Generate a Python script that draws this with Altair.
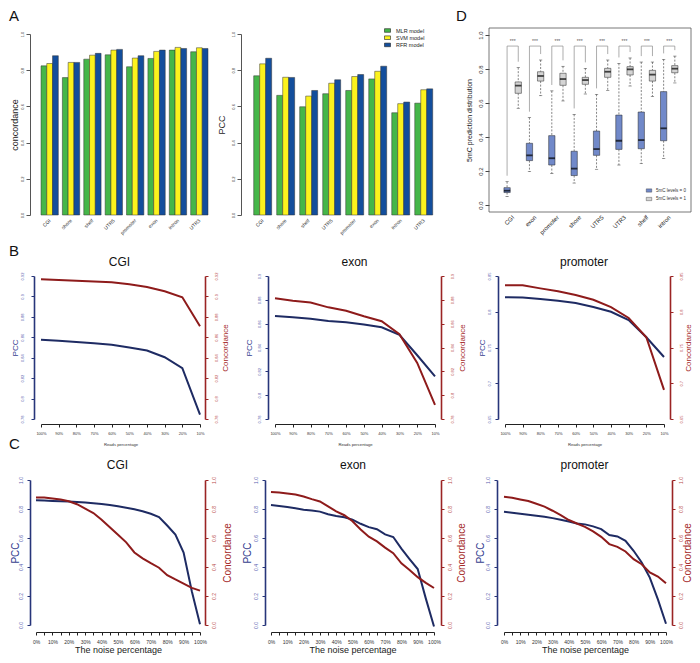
import json
import altair as alt
import pandas as pd

FONT = "Liberation Sans"

# ---------------- Panel A data ----------------
regions_A = ["CGI", "shore", "shelf", "UTR5", "promoter", "exon", "intron", "UTR3"]
models = ["MLR model", "SVM model", "RFR model"]
model_colors = ["#45b649", "#fcf21d", "#134e9c"]
conc_MLR = [0.824, 0.759, 0.861, 0.885, 0.819, 0.865, 0.911, 0.902]
conc_SVM = [0.837, 0.843, 0.883, 0.911, 0.867, 0.904, 0.926, 0.924]
conc_RFR = [0.880, 0.843, 0.893, 0.915, 0.880, 0.911, 0.920, 0.920]
pcc_MLR = [0.769, 0.661, 0.598, 0.670, 0.688, 0.752, 0.565, 0.618]
pcc_SVM = [0.835, 0.761, 0.657, 0.728, 0.765, 0.794, 0.615, 0.692]
pcc_RFR = [0.866, 0.760, 0.688, 0.747, 0.776, 0.822, 0.624, 0.697]

# ---------------- Panel D data ----------------
regions_D = ["CGI", "exon", "promoter", "shore", "UTR5", "UTR3", "shelf", "intron"]
groups_D = ["5mC levels = 0", "5mC levels = 1"]
group_colors = ["#7189c9", "#d4d4d4"]
lvl0_lo = [0.049, 0.196, 0.186, 0.129, 0.210, 0.235, 0.243, 0.273]
lvl0_q1 = [0.073, 0.261, 0.235, 0.173, 0.292, 0.327, 0.331, 0.378]
lvl0_med = [0.084, 0.292, 0.275, 0.214, 0.329, 0.378, 0.382, 0.451]
lvl0_q3 = [0.102, 0.363, 0.408, 0.316, 0.435, 0.529, 0.547, 0.667]
lvl0_hi = [0.137, 0.514, 0.671, 0.533, 0.651, 0.833, 0.841, 0.857]
lvl1_lo = [0.569, 0.643, 0.612, 0.653, 0.673, 0.700, 0.639, 0.718]
lvl1_q1 = [0.657, 0.729, 0.704, 0.710, 0.751, 0.765, 0.729, 0.778]
lvl1_med = [0.702, 0.759, 0.741, 0.735, 0.784, 0.798, 0.767, 0.802]
lvl1_q3 = [0.724, 0.784, 0.775, 0.751, 0.804, 0.814, 0.792, 0.820]
lvl1_hi = [0.808, 0.853, 0.816, 0.804, 0.853, 0.865, 0.841, 0.876]

# ---------------- Panel B data (reads percentage) ----------------
reads_pct = [100, 90, 80, 70, 60, 50, 40, 30, 20, 10]
b_cgi_pcc = [0.8575, 0.8565, 0.8555, 0.8542, 0.8526, 0.8500, 0.8471, 0.8405, 0.8298, 0.7842]
b_cgi_conc = [0.9167, 0.9161, 0.9154, 0.9145, 0.9138, 0.9119, 0.9093, 0.9050, 0.8992, 0.8708]
b_exon_pcc = [0.8665, 0.8654, 0.8642, 0.8623, 0.8612, 0.8593, 0.8570, 0.8507, 0.8335, 0.8157]
b_exon_conc = [0.8814, 0.8792, 0.8778, 0.8737, 0.8709, 0.8662, 0.8620, 0.8512, 0.8271, 0.7919]
b_prom_pcc = [0.8204, 0.8199, 0.8179, 0.8153, 0.8122, 0.8066, 0.8000, 0.7883, 0.7643, 0.7367]
b_prom_conc = [0.8372, 0.8372, 0.8327, 0.8286, 0.8235, 0.8168, 0.8066, 0.7913, 0.7643, 0.6908]

# ---------------- Panel C data (noise percentage) ----------------
noise_pct = [0, 5, 10, 15, 20, 25, 30, 35, 40, 45, 50, 55, 60, 65, 70, 75, 80, 85, 90, 95, 100]
c_cgi_pcc = [0.860, 0.858, 0.856, 0.853, 0.851, 0.849, 0.844, 0.840, 0.835, 0.828, 0.819,
             0.809, 0.798, 0.784, 0.767, 0.744, 0.686, 0.623, 0.500, 0.233, 0.005]
c_cgi_conc = [0.879, 0.879, 0.872, 0.865, 0.853, 0.833, 0.802, 0.772, 0.726, 0.674, 0.623,
              0.570, 0.500, 0.460, 0.426, 0.395, 0.344, 0.314, 0.286, 0.256, 0.237]
c_exon_pcc = [0.827, 0.820, 0.814, 0.805, 0.795, 0.789, 0.782, 0.764, 0.752, 0.743, 0.727,
              0.698, 0.675, 0.661, 0.625, 0.607, 0.527, 0.455, 0.386, 0.182, -0.010]
c_exon_conc = [0.918, 0.914, 0.907, 0.900, 0.886, 0.868, 0.852, 0.818, 0.784, 0.757, 0.716,
               0.659, 0.609, 0.577, 0.534, 0.495, 0.425, 0.380, 0.330, 0.291, 0.255]
c_prom_pcc = [0.781, 0.774, 0.767, 0.760, 0.753, 0.747, 0.737, 0.726, 0.714, 0.700, 0.694,
              0.680, 0.661, 0.620, 0.611, 0.581, 0.512, 0.431, 0.327, 0.177, 0.009]
c_prom_conc = [0.885, 0.878, 0.866, 0.855, 0.836, 0.816, 0.788, 0.758, 0.724, 0.700, 0.677,
               0.645, 0.608, 0.558, 0.539, 0.507, 0.454, 0.419, 0.362, 0.334, 0.288]

NAVY = "#1e2b63"
NAVY_AX = "#27357a"
NAVY_LAB = "#5a5fb0"
RED = "#8e1b1b"
RED_AX = "#9b2424"
RED_LAB = "#b84a4a"
RECT_PATH = "M-1,-0.6L1,-0.6L1,0.6L-1,0.6Z"
PAGE0 = 8  # left page margin


def first_cell(width, letters, top, bottom):
    """Row-leading cell: panel letter(s) plus invisible white bounds anchors."""
    layers = []
    for txt, dy in letters:
        layers.append(alt.Chart(pd.DataFrame({"t": [txt]})).mark_text(
            align="left", baseline="top", fontSize=15, color="#111"
        ).encode(text="t:N", x=alt.value(0), y=alt.value(dy)))
    for yy in (top, bottom):
        layers.append(alt.Chart(pd.DataFrame({"a": [0]})).mark_rule(
            color="#ffffff", strokeWidth=1
        ).encode(x=alt.value(0), x2=alt.value(1), y=alt.value(yy)))
    return alt.layer(*layers).properties(width=width, height=1)


def spacer(w):
    return alt.Chart(pd.DataFrame({"t": [""]})).mark_text().encode(
        text="t:N", x=alt.value(0), y=alt.value(0)).properties(width=w, height=1)


# ---------------- Panel A ----------------
def bar_panel(vals, ytitle, width, height, rng, pad_inner, title_x, legend):
    rows = []
    for m, v in zip(models, vals):
        for i, r in enumerate(regions_A):
            rows.append({"region": r, "model": m, "value": v[i]})
    df = pd.DataFrame(rows)
    if legend:
        leg = alt.Legend(orient="none", legendX=143, legendY=-7, title=None,
                         symbolType=RECT_PATH, symbolSize=36, symbolStrokeColor="#222",
                         symbolStrokeWidth=0.6, symbolOpacity=1, labelFontSize=5.5,
                         labelOffset=5, rowPadding=0.2, padding=0, labelColor="#222")
    else:
        leg = None
    yax = alt.Axis(values=[0, 0.2, 0.4, 0.6, 0.8, 1.0], format=".1f", labelAngle=270,
                   labelAlign="center", labelBaseline="bottom", labelFontSize=4, labelPadding=2,
                   tickSize=4, tickColor="#555", domainColor="#555", labelColor="#333",
                   title=ytitle, titleFontSize=9, titleFontWeight="normal", titleAngle=270,
                   titleX=title_x, titleY=height / 2, titleAlign="center", titleBaseline="middle",
                   titleColor="#222", grid=False, labelFlush=False, labelOverlap=False)
    xax = alt.Axis(title=None, labelAngle=315, labelAlign="right", labelBaseline="middle",
                   labelFontSize=5, labelPadding=4, ticks=False, domain=False, labelColor="#333",
                   labelOverlap=False)
    return alt.Chart(df).mark_bar(stroke="#333333", strokeWidth=0.5).encode(
        x=alt.X("region:N", sort=regions_A,
                scale=alt.Scale(range=rng, paddingInner=pad_inner, paddingOuter=0), axis=xax),
        xOffset=alt.XOffset("model:N", sort=models, scale=alt.Scale(paddingInner=0, paddingOuter=0)),
        y=alt.Y("value:Q", scale=alt.Scale(domain=[0, 1], nice=False), axis=yax),
        color=alt.Color("model:N", scale=alt.Scale(domain=models, range=model_colors), legend=leg),
    ).properties(width=width, height=height)


A_left = bar_panel([conc_MLR, conc_SVM, conc_RFR], "concordance", 210, 181, [11, 178], 0.19, -15.5, False)
A_right = bar_panel([pcc_MLR, pcc_SVM, pcc_RFR], "PCC", 247, 181, [12.7, 191.7], 0.22, -20, True)

# ---------------- Panel D ----------------
D_W, D_H = 202, 172
box_rows = []
for i, r in enumerate(regions_D):
    box_rows.append({"region": r, "grp": groups_D[0], "pos": 2 * i + 1, "lo": lvl0_lo[i],
                     "q1": lvl0_q1[i], "med": lvl0_med[i], "q3": lvl0_q3[i], "hi": lvl0_hi[i]})
    box_rows.append({"region": r, "grp": groups_D[1], "pos": 2 * i + 2, "lo": lvl1_lo[i],
                     "q1": lvl1_q1[i], "med": lvl1_med[i], "q3": lvl1_q3[i], "hi": lvl1_hi[i]})
df_box = pd.DataFrame(box_rows)
df_pair = pd.DataFrame({"region": regions_D,
                        "lpos": [2 * i + 1 for i in range(len(regions_D))],
                        "rpos": [2 * i + 2 for i in range(len(regions_D))]})

label_expr_D = json.dumps(regions_D) + "[floor(datum.value / 2)]"
xscale_D = alt.Scale(domain=[-0.17, 17.0], nice=False, zero=False)
xaxis_D = alt.Axis(values=[2 * i + 1.5 for i in range(len(regions_D))], labelExpr=label_expr_D,
                   title=None, ticks=False, domain=False, grid=False, labelAngle=315,
                   labelAlign="right", labelBaseline="middle", labelFontSize=6, labelPadding=10,
                   labelFlush=False, labelOverlap=False, labelColor="#222")
yscale_D = alt.Scale(domain=[-0.006, 1.006], nice=False, zero=False)
yaxis_D = alt.Axis(values=[0, 0.2, 0.4, 0.6, 0.8, 1.0], format=".1f", domain=False, tickSize=4,
                   tickColor="#444", labelAngle=270, labelAlign="center", labelBaseline="bottom",
                   labelFontSize=6, labelPadding=2, labelColor="#333",
                   title="5mC prediction distribution", titleFontSize=7, titleFontWeight="normal",
                   titleAngle=270, titleX=-20, titleY=D_H / 2, titleAlign="center",
                   titleBaseline="middle", titleColor="#222", grid=False, labelFlush=False,
                   labelOverlap=False)


def XD(f):
    return alt.X(f, scale=xscale_D, axis=xaxis_D)


def YD(f):
    return alt.Y(f, scale=yscale_D, axis=yaxis_D)


base_box = alt.Chart(df_box)
d_frame = alt.Chart(pd.DataFrame({"a": [0]})).mark_rect(
    fillOpacity=0, stroke="#555", strokeWidth=0.8
).encode(x=alt.value(0), x2=alt.value(D_W), y=alt.value(-6), y2=alt.value(D_H + 6))
d_wh_up = base_box.mark_rule(strokeDash=[2, 1.5], color="#333", strokeWidth=0.6).encode(
    x=XD("pos:Q"), y=YD("hi:Q"), y2="q3:Q")
d_wh_lo = base_box.mark_rule(strokeDash=[2, 1.5], color="#333", strokeWidth=0.6).encode(
    x=XD("pos:Q"), y=YD("q1:Q"), y2="lo:Q")
d_cap_up = base_box.mark_tick(orient="horizontal", size=3.2, thickness=0.7, color="#333").encode(
    x=XD("pos:Q"), y=YD("hi:Q"))
d_cap_lo = base_box.mark_tick(orient="horizontal", size=3.2, thickness=0.7, color="#333").encode(
    x=XD("pos:Q"), y=YD("lo:Q"))
d_box = base_box.mark_bar(size=6.3, stroke="#222", strokeWidth=0.5).encode(
    x=XD("pos:Q"), y=YD("q1:Q"), y2="q3:Q",
    color=alt.Color("grp:N", scale=alt.Scale(domain=groups_D, range=group_colors),
                    legend=alt.Legend(orient="none", legendX=157, legendY=153.5, title=None,
                                      symbolType=RECT_PATH, symbolSize=30,
                                      symbolStrokeColor="#333", symbolStrokeWidth=0.4,
                                      symbolOpacity=1, labelFontSize=4.5, labelOffset=4,
                                      rowPadding=2.5, padding=0, labelColor="#333")))
d_med = base_box.mark_tick(orient="horizontal", size=6.3, thickness=1.8, color="#000").encode(
    x=XD("pos:Q"), y=YD("med:Q"))
d_br_v = base_box.transform_calculate(bot="datum.hi + 0.035", top="0.935").mark_rule(
    color="#8a8a8a", strokeWidth=0.7).encode(x=XD("pos:Q"), y=YD("bot:Q"), y2="top:Q")
d_br_h = alt.Chart(df_pair).transform_calculate(top="0.935").mark_rule(
    color="#8a8a8a", strokeWidth=0.7).encode(x=XD("lpos:Q"), x2="rpos:Q", y=YD("top:Q"))
d_star = alt.Chart(df_pair).transform_calculate(
    mid="(datum.lpos + datum.rpos) / 2", sy="0.963"
).mark_text(text="***", fontSize=5, color="#555").encode(x=XD("mid:Q"), y=YD("sy:Q"))
d_letter = alt.Chart(pd.DataFrame({"t": ["D"]})).mark_text(
    align="left", baseline="top", fontSize=15, color="#111"
).encode(text="t:N", x=alt.value(-33), y=alt.value(-25))

D = alt.layer(d_frame, d_br_v, d_br_h, d_star, d_wh_up, d_wh_lo, d_cap_up, d_cap_lo, d_box, d_med,
              d_letter).properties(width=D_W, height=D_H)


# ---------------- Panels B and C ----------------
def xaxis_B():
    return alt.Axis(values=reads_pct, labelExpr="datum.value + '%'", offset=5, tickSize=3,
                    tickColor="#222", domainColor="#222", labelFontSize=4, labelPadding=4.5,
                    labelAngle=0, labelColor="#333", title="Reads percentage", titleFontSize=4.2,
                    titleFontWeight="normal", titleY=20, titleBaseline="middle", titleColor="#333",
                    grid=False, labelFlush=False, labelOverlap=False)


def xaxis_C():
    return alt.Axis(values=noise_pct, labelExpr="datum.value % 10 == 0 ? datum.value + '%' : ''",
                    offset=7, tickSize=3, tickColor="#222", domainColor="#222", labelFontSize=5,
                    labelPadding=4, labelAngle=0, labelColor="#333", title="The noise percentage",
                    titleFontSize=9, titleFontWeight="normal", titleY=17.5, titleBaseline="middle",
                    titleColor="#222", grid=False, labelFlush=False, labelOverlap=False)


B_H, C_H = 143, 145


def line_panel(kind, pcc, conc, title, ydom, yvals, yfmt, LA, X0, X1, RA, TL, TR, pad_l, pad_r):
    """LA/RA: page x of left/right axes, X0/X1: page x of first/last point, TL/TR: title centres."""
    width = X1 - X0
    if kind == "B":
        xfield, xvals, xdom, xaxis, height = "reads", reads_pct, [100, 10], xaxis_B(), B_H
        lab_fs, ytitle_fs, head_dy = 4, 8, -14
    else:
        xfield, xvals, xdom, xaxis, height = "noise", noise_pct, [0, 100], xaxis_C(), C_H
        lab_fs, ytitle_fs, head_dy = 5, 10, -15
    df = pd.DataFrame({xfield: xvals, "pcc": pcc, "conc": conc})
    X = alt.X(f"{xfield}:Q", scale=alt.Scale(domain=xdom, nice=False, zero=False), axis=xaxis)
    axl = alt.Axis(orient="left", values=yvals, format=yfmt, offset=X0 - LA, tickSize=3,
                   tickColor=NAVY_AX, domainColor=NAVY_AX, domainWidth=1.6, labelAngle=270,
                   labelAlign="center", labelBaseline="bottom", labelFontSize=lab_fs,
                   labelPadding=pad_l, labelColor=NAVY_LAB, title="PCC", titleColor="#34408f",
                   titleFontSize=ytitle_fs, titleFontWeight="normal", titleAngle=270, titleX=TL - LA,
                   titleY=height / 2, titleAlign="center", titleBaseline="middle", grid=False,
                   labelFlush=False, labelOverlap=False)
    axr = alt.Axis(orient="right", values=yvals, format=yfmt, offset=RA - X1, tickSize=3,
                   tickColor=RED_AX, domainColor=RED_AX, domainWidth=1.6, labelAngle=270,
                   labelAlign="center", labelBaseline="top", labelFontSize=lab_fs,
                   labelPadding=pad_r, labelColor=RED_LAB, title="Concordance", titleColor="#a52a2a",
                   titleFontSize=ytitle_fs, titleFontWeight="normal", titleAngle=270, titleX=TR - RA,
                   titleY=height / 2, titleAlign="center", titleBaseline="middle", grid=False,
                   labelFlush=False, labelOverlap=False)
    base = alt.Chart(df)
    l1 = base.mark_line(color=NAVY, strokeWidth=2).encode(
        x=X, y=alt.Y("pcc:Q", scale=alt.Scale(domain=ydom, nice=False, zero=False), axis=axl))
    l2 = base.mark_line(color=RED, strokeWidth=2).encode(
        x=X, y=alt.Y("conc:Q", scale=alt.Scale(domain=ydom, nice=False, zero=False), axis=axr))
    head = alt.Chart(pd.DataFrame({"t": [title]})).mark_text(
        fontSize=12, align="center", baseline="middle", color="#111"
    ).encode(text="t:N", x=alt.value((LA + RA) / 2 - X0), y=alt.value(head_dy))
    return alt.layer(l1, l2, head).resolve_scale(y="independent").properties(width=width, height=height)


Bv = [0.78, 0.80, 0.82, 0.84, 0.86, 0.88, 0.90, 0.92]
B1 = line_panel("B", b_cgi_pcc, b_cgi_conc, "CGI", [0.78, 0.92], Bv, ".2~f",
                33, 40, 199, 204, 14, 224.5, 7, 6)
B2 = line_panel("B", b_exon_pcc, b_exon_conc, "exon", [0.78, 0.90], Bv[:-1], ".2~f",
                267, 274, 434, 440, 248, 461, 4, 6)
B3 = line_panel("B", b_prom_pcc, b_prom_conc, "promoter", [0.65, 0.85],
                [0.65, 0.70, 0.75, 0.80, 0.85], ".2~f",
                497, 504, 663, 669, 481, 687, 4, 6)
Cv = [0, 0.2, 0.4, 0.6, 0.8, 1.0]
C1 = line_panel("C", c_cgi_pcc, c_cgi_conc, "CGI", [0, 1], Cv, ".1f",
                29, 35, 199, 204, 14, 226, 4, 3)
C2 = line_panel("C", c_exon_pcc, c_exon_conc, "exon", [0, 1], Cv, ".1f",
                264, 270, 433, 440, 246, 460, 4, 3)
C3 = line_panel("C", c_prom_pcc, c_prom_conc, "promoter", [0, 1], Cv, ".1f",
                496, 503, 665, 671, 479, 686, 4, 3)

row1 = alt.hconcat(
    first_cell(29 - PAGE0, [("A", -25)], -25.5, 208.5),
    A_left, spacer(1), A_right, spacer(1), D,
    spacing=0, bounds="flush",
).resolve_scale(color="independent", xOffset="independent")

row2 = alt.hconcat(
    first_cell(40 - PAGE0, [("B", -32), ("C", 161)], -32.5, 179.5),
    B1, spacer(274 - 199), B2, spacer(504 - 434), B3,
    spacing=0, bounds="flush",
)

row3 = alt.hconcat(
    first_cell(35 - PAGE0, [], -23.5, 100),
    C1, spacer(270 - 199), C2, spacer(503 - 433), C3,
    spacing=0, bounds="flush",
)

chart = alt.vconcat(row1, row2, row3, spacing=0).resolve_scale(
    color="independent", xOffset="independent"
).properties(padding=0).configure(font=FONT).configure_view(stroke=None)

chart.save("out.html", embed_options={"renderer": "svg", "actions": False})
